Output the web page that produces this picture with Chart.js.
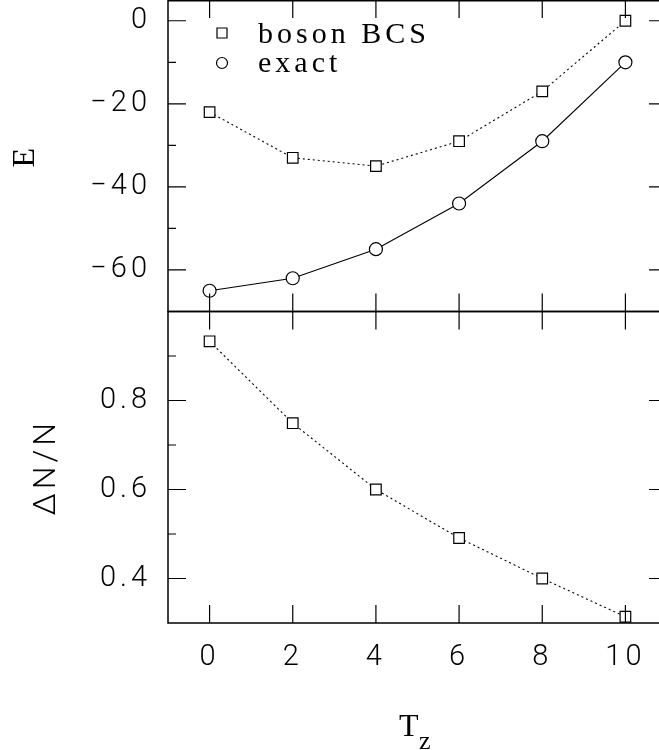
<!DOCTYPE html>
<html>
<head>
<meta charset="utf-8">
<script src="https://cdn.jsdelivr.net/npm/chart.js@4.4.1/dist/chart.umd.min.js"></script>
<style>
  html, body { margin: 0; padding: 0; background: #fff; overflow: hidden; }
  #wrap { width: 680px; height: 750px; }
</style>
</head>
<body>
<div id="wrap"><canvas id="c" width="680" height="750"></canvas></div>
<script>
// T_z values on the shared x axis
const tz = [0, 2, 4, 6, 8, 10];
// top panel: energies
const bcsEnergy = [-22, -33, -35, -29, -17, 0];
const exactEnergy = [-65, -62, -55, -44, -29, -10];
// bottom panel: delta N / N for boson BCS
const bcsRatio = [0.933, 0.749, 0.600, 0.491, 0.400, 0.314];

// tick labels
const xTicks = [0, 2, 4, 6, 8, 10];
const energyTicks = [-60, -40, -20, 0];
const energyMinor = [-50, -30, -10];
const ratioTicks = [0.4, 0.6, 0.8];
const ratioMinor = [0.5, 0.7, 0.9];

const legendLabels = ["boson BCS", "exact"];

const thinSans = "Roboto";
const tickFont = { family: thinSans, size: 29, weight: 300 };
const serif = "Liberation Serif";

const pts = (ys) => tz.map((x, i) => ({ x: x, y: ys[i] }));

// no label overhang padding, the frame sits at the canvas edges
const noPad = (s) => {
  s.paddingTop = 0; s.paddingBottom = 0; s.paddingLeft = 0; s.paddingRight = 0;
};

// frame + inward ticks on every side of both panels
const framePlugin = {
  id: "frame",
  beforeDraw(chart) {
    // the original labels are widely spaced
    chart.ctx.letterSpacing = "4px";
  },
  afterDraw(chart) {
    const ctx = chart.ctx;
    const area = chart.chartArea;
    const xs = chart.scales.x;
    ctx.save();
    ctx.strokeStyle = "#000";
    ["yE", "yR"].forEach((id) => {
      const s = chart.scales[id];
      const top = Math.max(s.top, 0.75);
      ctx.lineWidth = 1.5;
      ctx.strokeRect(area.left, top, area.right - area.left, s.bottom - top);
      ctx.lineWidth = 1.2;
      ctx.beginPath();
      xTicks.forEach((v) => {
        const px = xs.getPixelForValue(v);
        ctx.moveTo(px, s.top); ctx.lineTo(px, s.top + 18);
        ctx.moveTo(px, s.bottom); ctx.lineTo(px, s.bottom - 18);
      });
      const major = id === "yE" ? energyTicks : ratioTicks;
      const minor = id === "yE" ? energyMinor : ratioMinor;
      major.forEach((v) => {
        const py = s.getPixelForValue(v);
        ctx.moveTo(area.left, py); ctx.lineTo(area.left + 18, py);
        ctx.moveTo(area.right, py); ctx.lineTo(area.right - 18, py);
      });
      minor.forEach((v) => {
        const py = s.getPixelForValue(v);
        ctx.moveTo(area.left, py); ctx.lineTo(area.left + 8, py);
        ctx.moveTo(area.right, py); ctx.lineTo(area.right - 8, py);
      });
      ctx.stroke();
    });

    // legend inside the top panel
    const lx = 222;
    ctx.lineWidth = 1.2;
    ctx.fillStyle = "#fff";
    ctx.beginPath();
    ctx.rect(lx - 5, 28, 10, 10);
    ctx.fill(); ctx.stroke();
    ctx.beginPath();
    ctx.arc(lx, 63, 5.5, 0, Math.PI * 2);
    ctx.fill(); ctx.stroke();
    ctx.fillStyle = "#000";
    ctx.font = "30px '" + serif + "'";
    ctx.letterSpacing = "4px";
    ctx.textAlign = "left";
    ctx.textBaseline = "alphabetic";
    ctx.fillText(legendLabels[0], 258, 43);
    ctx.fillText(legendLabels[1], 258, 72);

    // x axis title with subscript
    ctx.letterSpacing = "0px";
    ctx.font = "32px '" + serif + "'";
    ctx.fillText("T", 399, 736);
    ctx.font = "26px '" + serif + "'";
    ctx.fillText("z", 419, 749);
    ctx.restore();
    ctx.letterSpacing = "0px";
  }
};

new Chart(document.getElementById("c"), {
  type: "line",
  data: {
    datasets: [
      {
        label: legendLabels[0],
        data: pts(bcsEnergy),
        yAxisID: "yE",
        borderColor: "#000",
        borderWidth: 1.1,
        borderDash: [2, 3],
        pointStyle: "rect",
        pointRadius: 7.5,
        pointBorderWidth: 1.2,
        pointBackgroundColor: "#fff",
        pointBorderColor: "#000",
        clip: false
      },
      {
        label: legendLabels[1],
        data: pts(exactEnergy),
        yAxisID: "yE",
        borderColor: "#000",
        borderWidth: 1.1,
        pointStyle: "circle",
        pointRadius: 6.5,
        pointBorderWidth: 1.2,
        pointBackgroundColor: "#fff",
        pointBorderColor: "#000",
        clip: false
      },
      {
        label: "ΔN/N",
        data: pts(bcsRatio),
        yAxisID: "yR",
        borderColor: "#000",
        borderWidth: 1.1,
        borderDash: [2, 3],
        pointStyle: "rect",
        pointRadius: 7.5,
        pointBorderWidth: 1.2,
        pointBackgroundColor: "#fff",
        pointBorderColor: "#000",
        clip: false
      }
    ]
  },
  options: {
    responsive: false,
    animation: false,
    layout: { autoPadding: false, padding: { top: 0, right: 13, left: 0, bottom: 0 } },
    plugins: {
      legend: { display: false },
      tooltip: { enabled: false }
    },
    scales: {
      x: {
        type: "linear",
        min: -1,
        max: 11,
        afterBuildTicks: (s) => { s.ticks = xTicks.map((v) => ({ value: v })); },
        afterFit: (s) => { s.height = 127; noPad(s); },
        grid: { display: false, drawTicks: false },
        border: { display: false },
        ticks: { color: "#000", font: tickFont, padding: 17, maxRotation: 0 }
      },
      yR: {
        type: "linear",
        position: "left",
        stack: "panels",
        stackWeight: 1,
        min: 0.3,
        max: 1.0,
        afterBuildTicks: (s) => { s.ticks = ratioTicks.map((v) => ({ value: v })); },
        afterFit: (s) => { s.width = 168; noPad(s); },
        grid: { display: false, drawTicks: false },
        border: { display: false },
        ticks: { color: "#000", font: tickFont, padding: 17, callback: (v) => v.toFixed(1) },
        title: {
          display: true,
          text: "ΔN/N",
          color: "#000",
          font: { family: thinSans, size: 32, weight: 300 },
          padding: { top: 28, bottom: 0 }
        }
      },
      yE: {
        type: "linear",
        position: "left",
        stack: "panels",
        stackWeight: 1,
        min: -70,
        max: 5,
        afterBuildTicks: (s) => { s.ticks = energyTicks.map((v) => ({ value: v })); },
        afterFit: (s) => { s.width = 168; noPad(s); },
        grid: { display: false, drawTicks: false },
        border: { display: false },
        ticks: {
          color: "#000",
          font: tickFont,
          padding: 17,
          callback: (v) => (v < 0 ? "\u2212" + Math.abs(v) : String(v))
        },
        title: {
          display: true,
          text: "E",
          color: "#000",
          font: { family: serif, size: 32 },
          padding: { top: 6, bottom: 0 }
        }
      }
    }
  },
  plugins: [framePlugin]
});
</script>
</body>
</html>
